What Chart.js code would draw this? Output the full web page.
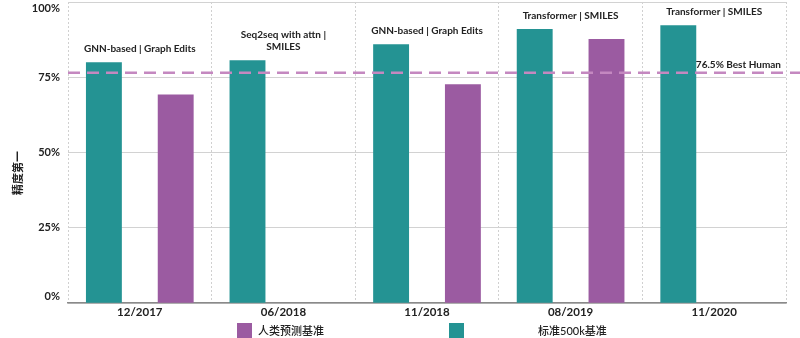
<!DOCTYPE html>
<html>
<head>
<meta charset="utf-8">
<script src="https://cdn.jsdelivr.net/npm/chart.js@4/dist/chart.umd.min.js"></script>
<style>
  html, body { margin: 0; padding: 0; background: #fff; }
  #wrap { width: 800px; height: 338px; position: relative; }
</style>
</head>
<body>
<div id="wrap"><canvas id="retroChart"></canvas></div>
<script>
  // Data
  const categories = ['12/2017', '06/2018', '11/2018', '08/2019', '11/2020'];
  const modelLabels = [
    ['GNN-based | Graph Edits'],
    ['Seq2seq with attn |', 'SMILES'],
    ['GNN-based | Graph Edits'],
    ['Transformer | SMILES'],
    ['Transformer | SMILES']
  ];
  const standardValues = [80.0, 80.7, 86.0, 91.0, 92.3];
  const humanValues = [69.3, null, 72.7, 87.7, null];
  const bestHuman = 76.5;
  const bestHumanLabel = '76.5% Best Human';
  const yTicks = [0, 25, 50, 75, 100];

  const TEAL = '#249393';
  const PURPLE = '#9b5ba1';
  const FONT = 'Lato, "Noto Sans CJK SC", sans-serif';

  // extra drawing: model labels, best-human line, y title, legend
  const extras = {
    id: 'extras',
    afterDatasetsDraw(chart) {
      const ctx = chart.ctx;
      const y = chart.scales.y;
      const x = chart.scales.x;
      const area = chart.chartArea;

      // dashed best human line
      const ly = y.getPixelForValue(bestHuman);
      ctx.save();
      ctx.strokeStyle = '#c488c0';
      ctx.lineWidth = 2.6;
      ctx.setLineDash([12, 7]);
      ctx.beginPath();
      ctx.moveTo(area.left, ly);
      ctx.lineTo(chart.width, ly);
      ctx.stroke();
      ctx.setLineDash([]);
      ctx.fillStyle = '#222';
      ctx.font = 'bold 10px ' + FONT;
      ctx.textAlign = 'right';
      ctx.textBaseline = 'middle';
      ctx.fillText(bestHumanLabel, area.right - 5, ly - 8);

      // model labels above the standard bar
      const meta = chart.getDatasetMeta(0);
      ctx.font = 'bold 10px ' + FONT;
      ctx.textAlign = 'center';
      modelLabels.forEach(function(lines, i) {
        const top = meta.data[i].y;
        const cx = x.getPixelForValue(i);
        lines.forEach(function(t, j) {
          ctx.fillText(t, cx, top - 13 - (lines.length - 1 - j) * 12);
        });
      });
      ctx.restore();
    },
    afterDraw(chart) {
      const ctx = chart.ctx;
      ctx.save();
      // y axis title
      ctx.translate(18, 173);
      ctx.rotate(-Math.PI / 2);
      ctx.fillStyle = '#222';
      ctx.font = 'bold 11px ' + FONT;
      ctx.textAlign = 'center';
      ctx.textBaseline = 'middle';
      ctx.fillText('精度第一', 0, 0);
      ctx.restore();

      // legend (human first, then standard)
      const ds = chart.data.datasets;
      const items = [
        { d: ds[1], box: 237, text: 258 },
        { d: ds[0], box: 449, text: 538 }
      ];
      ctx.save();
      ctx.font = '500 11px ' + FONT;
      ctx.textBaseline = 'middle';
      items.forEach(function(it) {
        ctx.fillStyle = it.d.backgroundColor;
        ctx.fillRect(it.box, 323, 15, 15);
        ctx.fillStyle = '#222';
        ctx.fillText(it.d.label, it.text, 331);
      });
      ctx.restore();
    }
  };

  const ctx = document.getElementById('retroChart').getContext('2d');

  new Chart(ctx, {
    type: 'bar',
    data: {
      labels: categories,
      datasets: [
        {
          label: '标准500k基准',
          data: standardValues,
          backgroundColor: TEAL,
          barPercentage: 0.5,
          categoryPercentage: 1.0
        },
        {
          label: '人类预测基准',
          data: humanValues,
          backgroundColor: PURPLE,
          barPercentage: 0.5,
          categoryPercentage: 1.0
        }
      ]
    },
    options: {
      responsive: true,
      maintainAspectRatio: false,
      animation: false,
      layout: { padding: { top: 2, right: 14, bottom: 17, left: 0 } },
      scales: {
        x: {
          grid: {
            offset: true,
            color: '#d0d0d0',
            lineWidth: 1,
            drawTicks: false
          },
          border: { display: true, color: '#8a8a8a', width: 1.5, dash: [2, 2] },
          ticks: {
            padding: 2,
            color: '#222',
            font: { family: FONT, size: 11.5, weight: 'bold' }
          }
        },
        y: {
          min: 0,
          max: 100,
          afterBuildTicks: function(scale) {
            scale.ticks = yTicks.map(function(v) { return { value: v }; });
          },
          afterFit: function(scale) {
            scale.width = 68;
            scale.paddingTop = 0;
            scale.paddingBottom = 0;
          },
          grid: { color: '#d2d2d2', lineWidth: 1, drawTicks: false },
          border: { display: false },
          ticks: {
            padding: 8,
            color: '#222',
            font: { family: FONT, size: 11, weight: 'bold' },
            callback: function(v) {
              if (v === 100) return ['', v + '%'];
              if (v === 0) return [v + '%', ''];
              return v + '%';
            }
          }
        }
      },
      plugins: {
        legend: { display: false },
        tooltip: { enabled: false }
      }
    },
    plugins: [extras]
  });
</script>
</body>
</html>
